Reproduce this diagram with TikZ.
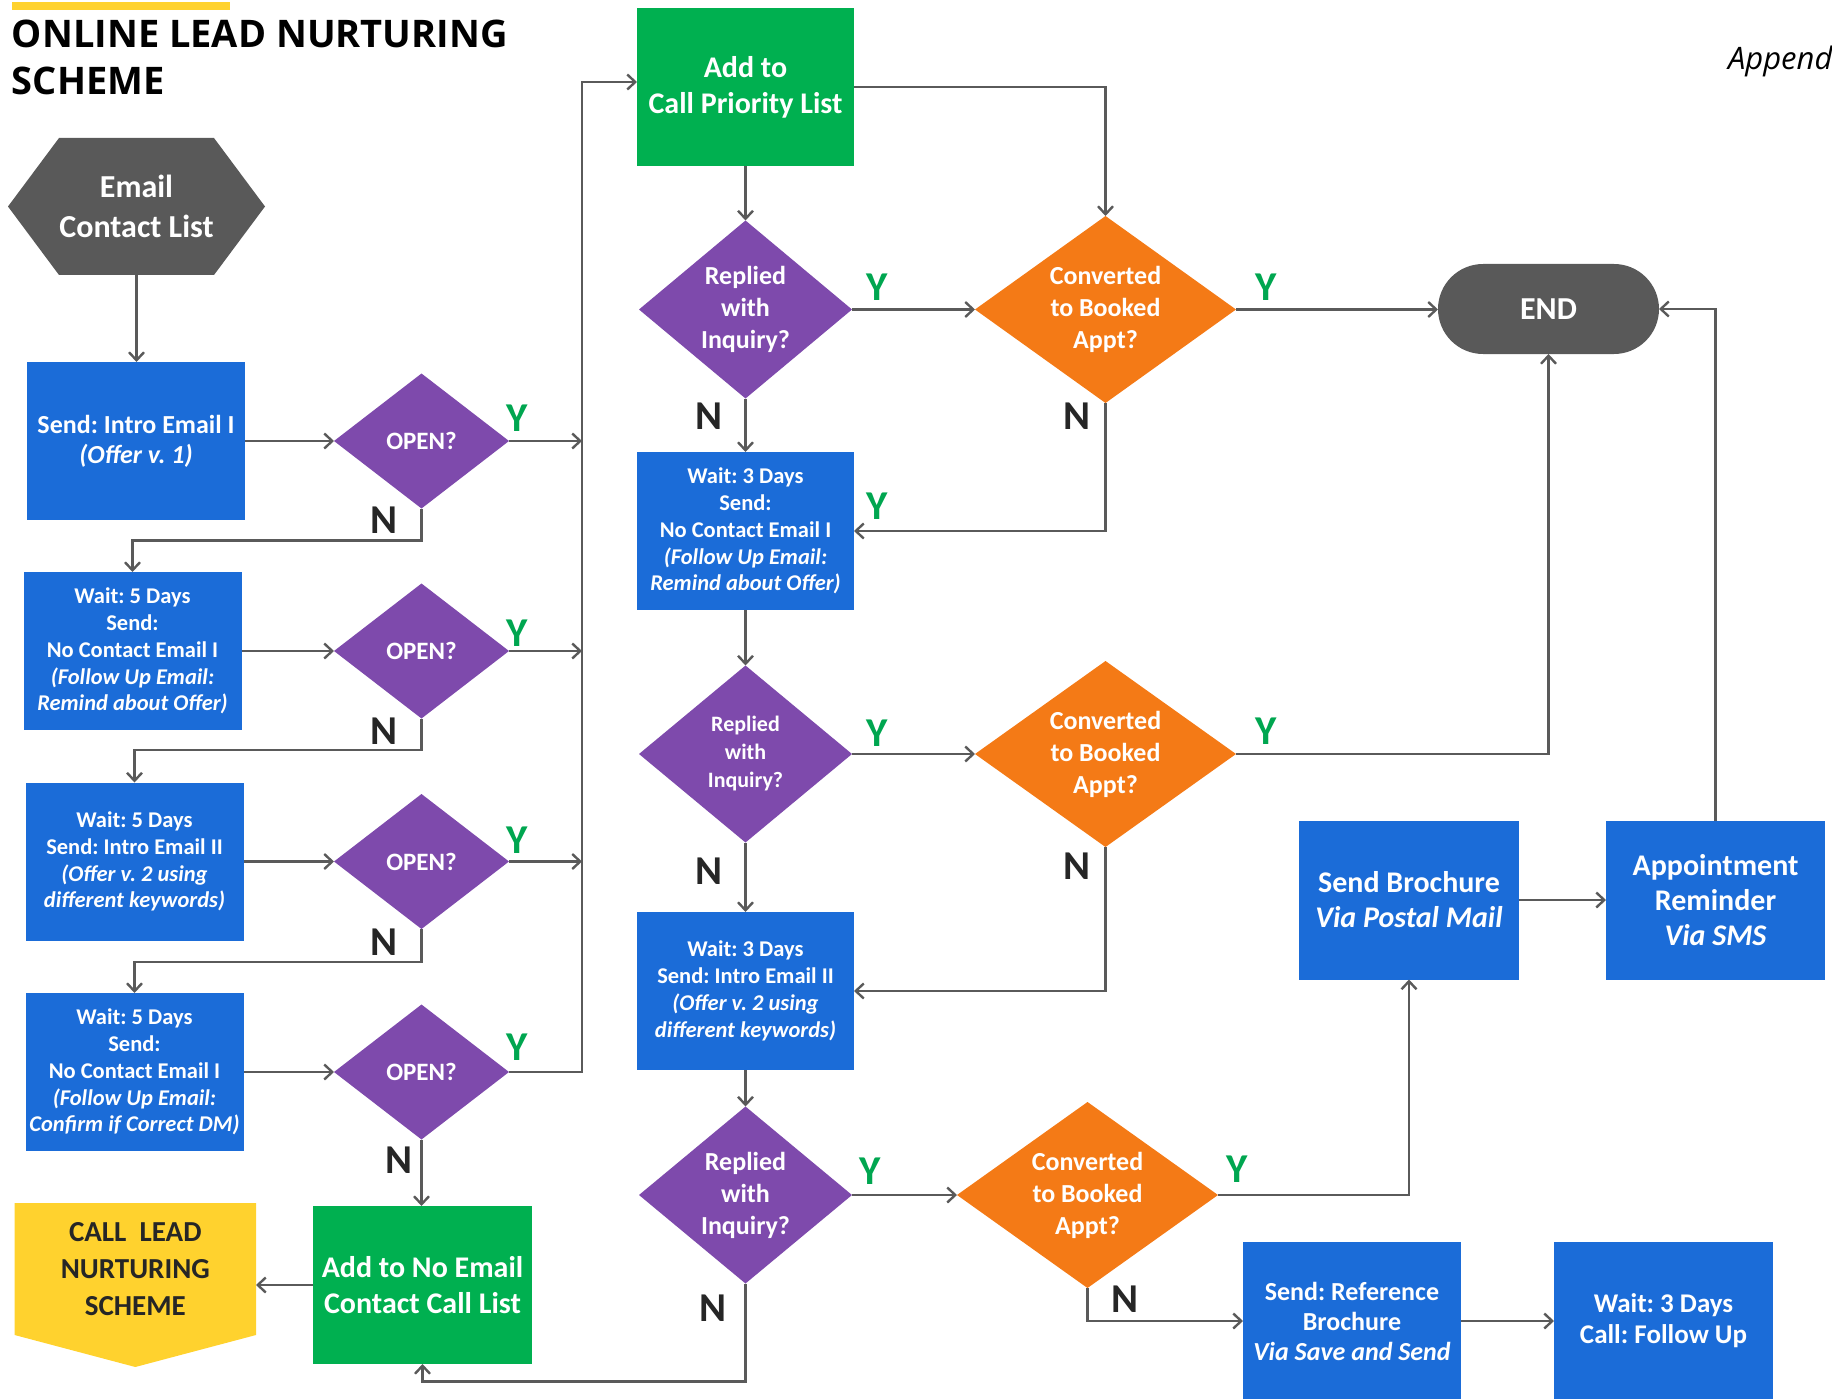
\documentclass[tikz,border=0pt]{standalone}
\usepackage{fontspec}
\setmainfont{Carlito}
\newfontfamily\titlefont{Open Sans}
\usetikzlibrary{shapes.geometric,shapes.misc,arrows.meta,backgrounds,calc}
\definecolor{bbox}{RGB}{27,108,216}
\definecolor{purp}{RGB}{126,74,172}
\definecolor{oran}{RGB}{244,122,22}
\definecolor{grn}{RGB}{0,176,80}
\definecolor{dgray}{RGB}{89,89,89}
\definecolor{ylw}{RGB}{255,210,46}
\definecolor{ygreen}{RGB}{0,166,80}
\definecolor{lgray}{RGB}{90,90,90}
\definecolor{ntext}{RGB}{38,38,38}
\frenchspacing
\begin{document}
\begin{tikzpicture}[x=1pt,y=-1pt,
 every node/.style={inner sep=0pt,outer sep=0pt},
 conn/.style={draw=lgray,line width=2.4pt},
 arr/.style={conn,-{Straight Barb[length=8pt,width=15pt]}},
 bluebox/.style={rectangle,fill=bbox,text=white,align=center,minimum width=218pt,minimum height=158pt,font=\bfseries\fontsize{22.5}{26.8}\selectfont},
 greenbox/.style={bluebox,fill=grn,font=\bfseries\fontsize{30}{36}\selectfont},
 bigblue/.style={bluebox,font=\bfseries\fontsize{30}{35}\selectfont},
 opendia/.style={diamond,fill=purp,text=white,minimum width=175pt,minimum height=135pt,shape aspect=1.3,font=\bfseries\fontsize{25}{30}\selectfont},
 repdia/.style={diamond,fill=purp,text=white,align=center,minimum width=213pt,minimum height=178pt,shape aspect=1.2,font=\bfseries\fontsize{26}{32}\selectfont},
 convdia/.style={diamond,fill=oran,text=white,align=center,minimum width=261pt,minimum height=187pt,shape aspect=1.4,font=\bfseries\fontsize{26}{32}\selectfont},
 ylab/.style={text=ygreen,font=\bfseries\fontsize{41}{41}\selectfont},
 nlab/.style={text=ntext,font=\bfseries\fontsize{41}{41}\selectfont},
]
\useasboundingbox (0,0) rectangle (1832,1399);

% title
\fill[ylw] (11.5,2) rectangle (230,10);
\node[anchor=base west,text=black,font=\titlefont\bfseries\fontsize{38}{38}\selectfont] (t1) at (12,48) {ONLINE LEAD NURTURING};
\node[anchor=base west,text=black,font=\titlefont\bfseries\fontsize{38}{38}\selectfont] (t2) at (12,95) {SCHEME};
\node[anchor=base west,text=black,font=\titlefont\itshape\fontsize{31}{31}\selectfont] (app) at (1728,70) {Append};

% left column
\node[text=white,align=center,minimum width=257pt,minimum height=137pt,font=\bfseries\fontsize{32}{40}\selectfont] (ecl) at (136.5,206.5) {Email\\Contact List};
\node[bluebox,font=\bfseries\fontsize{26}{30}\selectfont] (b1) at (136,441) {Send: Intro Email I\\{\itshape (Offer v. 1)}};
\node[bluebox] (b2) at (132.5,651) {Wait: 5 Days\\Send:\\No Contact Email I\\{\itshape (Follow Up Email:}\\{\itshape Remind about Offer)}};
\node[bluebox] (b3) at (134.5,861.5) {Wait: 5 Days\\Send: Intro Email II\\{\itshape (Offer v. 2 using}\\{\itshape different keywords)}};
\node[bluebox] (b4) at (134.5,1072) {Wait: 5 Days\\Send:\\No Contact Email I\\{\itshape (Follow Up Email:}\\{\itshape Confirm if Correct DM)}};

\node[opendia] (d1) at (421.5,441) {OPEN?};
\node[opendia] (d2) at (421.5,651) {OPEN?};
\node[opendia] (d3) at (421.5,861.5) {OPEN?};
\node[opendia] (d4) at (421.5,1072) {OPEN?};

\node[greenbox,minimum width=219pt] (nec) at (422.5,1285) {Add to No Email\\Contact Call List};
\node[text=ntext,align=center,minimum width=241.4pt,minimum height=132pt,font=\bfseries\fontsize{29}{37}\selectfont] (cln) at (135.3,1269) {CALL\ \ LEAD\\NURTURING\\SCHEME};

% middle column
\node[greenbox,minimum width=217pt] (cpl) at (745.5,87) {Add to\\Call Priority List};
\node[repdia] (d5) at (745.5,309.5) {Replied\\with\\Inquiry?};
\node[convdia] (d6) at (1105.5,309.5) {Converted\\to Booked\\Appt?};
\node[bluebox,minimum width=217pt] (b5) at (745.5,531) {Wait: 3 Days\\Send:\\No Contact Email I\\{\itshape (Follow Up Email:}\\{\itshape Remind about Offer)}};
\node[repdia,minimum height=177pt,font=\bfseries\fontsize{22}{28}\selectfont] (d7) at (745.5,754) {Replied\\with\\Inquiry?};
\node[convdia,minimum height=186pt] (d8) at (1105.5,754) {Converted\\to Booked\\Appt?};
\node[bluebox,minimum width=217pt] (b6) at (745.5,991) {Wait: 3 Days\\Send: Intro Email II\\{\itshape (Offer v. 2 using}\\{\itshape different keywords)}};
\node[repdia,minimum height=177pt] (d9) at (745.5,1195) {Replied\\with\\Inquiry?};
\node[convdia,minimum height=186pt] (d10) at (1087.5,1195) {Converted\\to Booked\\Appt?};

% right side
\node[rounded rectangle,fill=dgray,text=white,minimum width=221pt,minimum height=90pt,font=\bfseries\fontsize{32}{32}\selectfont] (end) at (1548.5,309) {END};
\node[bigblue,minimum width=220pt,minimum height=159pt] (sb) at (1409,900) {Send Brochure\\{\itshape Via Postal Mail}};
\node[bigblue,minimum width=219pt,minimum height=159pt] (ar) at (1715.5,900) {Appointment\\Reminder\\{\itshape Via SMS}};
\node[bluebox,font=\bfseries\fontsize{26}{30}\selectfont] (srb) at (1352,1321) {Send: Reference\\Brochure\\{\itshape Via Save and Send}};
\node[bluebox,minimum width=219pt,font=\bfseries\fontsize{27}{31}\selectfont] (w3) at (1663.5,1321) {Wait: 3 Days\\Call: Follow Up};

% background shapes
\begin{scope}[on background layer]
\fill[dgray] (ecl.west) -- ([xshift=51pt]ecl.north west) -- ([xshift=-51pt]ecl.north east) -- (ecl.east) -- ([xshift=-51pt]ecl.south east) -- ([xshift=51pt]ecl.south west) -- cycle;
\fill[ylw] (cln.north west) -- (cln.north east) -- (cln.south east) -- ([yshift=-32pt]cln.south) -- (cln.south west) -- cycle;
\end{scope}

% collector coordinate
\coordinate (colltop) at (582,82);

% connectors left
\draw[arr] (ecl.south) -- (ecl.south |- b1.north);
\draw[arr] (b1.east) -- (d1.west);
\draw[arr] (b2.east) -- (d2.west);
\draw[arr] (b3.east) -- (d3.west);
\draw[arr] (b4.east) -- (d4.west);
\draw[arr] (d1.east) -- (d1.east -| colltop);
\draw[arr] (d2.east) -- (d2.east -| colltop);
\draw[arr] (d3.east) -- (d3.east -| colltop);
\draw[arr] (d4.east) -| (colltop) -- (colltop -| cpl.west);
\draw[arr] (d1.south) -- ++(0,32) -| (b2.north);
\draw[arr] (d2.south) -- ++(0,31.5) -| (b3.north);
\draw[arr] (d3.south) -- ++(0,33) -| (b4.north);
\draw[arr] (d4.south) -- (d4.south |- nec.north);
\draw[arr] (nec.west) -- (nec.west -| cln.east);

% connectors middle
\draw[arr] (cpl.south) -- (d5.north);
\draw[arr] (cpl.east) -| (d6.north);
\draw[arr] (d5.east) -- (d6.west);
\draw[arr] (d6.east) -- (d6.east -| end.west);
\draw[arr] (d6.south) |- (b5.east);
\draw[arr] (d5.south) -- (b5.north);
\draw[arr] (b5.south) -- (d7.north);
\draw[arr] (d7.east) -- (d8.west);
\draw[arr] (d8.east) -| (end.south);
\draw[arr] (d8.south) |- (b6.east);
\draw[arr] (d7.south) -- (b6.north);
\draw[arr] (b6.south) -- (d9.north);
\draw[arr] (d9.east) -- (d10.west);
\draw[arr] (d10.east) -| (sb.south);
\draw[arr] (d10.south) |- (srb.west);
\draw[arr] (d9.south) -- ++(0,98) -| (nec.south);

% connectors right
\draw[arr] (sb.east) -- (ar.west);
\draw[arr] (ar.north) |- (end.east);
\draw[arr] (srb.east) -- (w3.west);

% labels
\node[ylab] (y1) at (517,418) {Y};
\node[nlab] (n1) at (384,520) {N};
\node[ylab] (y2) at (517,633) {Y};
\node[nlab] (n2) at (384,731) {N};
\node[ylab] (y3) at (517,840) {Y};
\node[nlab] (n3) at (384,942) {N};
\node[ylab] (y4) at (517,1047) {Y};
\node[nlab] (n4) at (399,1160) {N};
\node[ylab] (y5) at (877,287) {Y};
\node[nlab] (n5) at (709,416) {N};
\node[ylab] (y6) at (1266,287) {Y};
\node[nlab] (n6) at (1077,416) {N};
\node[ylab] (y5b) at (877,506) {Y};
\node[ylab] (y7) at (877,733) {Y};
\node[nlab] (n7) at (709,871) {N};
\node[ylab] (y8) at (1266,731) {Y};
\node[nlab] (n8) at (1077,866) {N};
\node[ylab] (y9) at (870,1171) {Y};
\node[nlab] (n9) at (713,1308) {N};
\node[ylab] (y10) at (1237,1169) {Y};
\node[nlab] (n10) at (1125,1299) {N};
\end{tikzpicture}
\end{document}
